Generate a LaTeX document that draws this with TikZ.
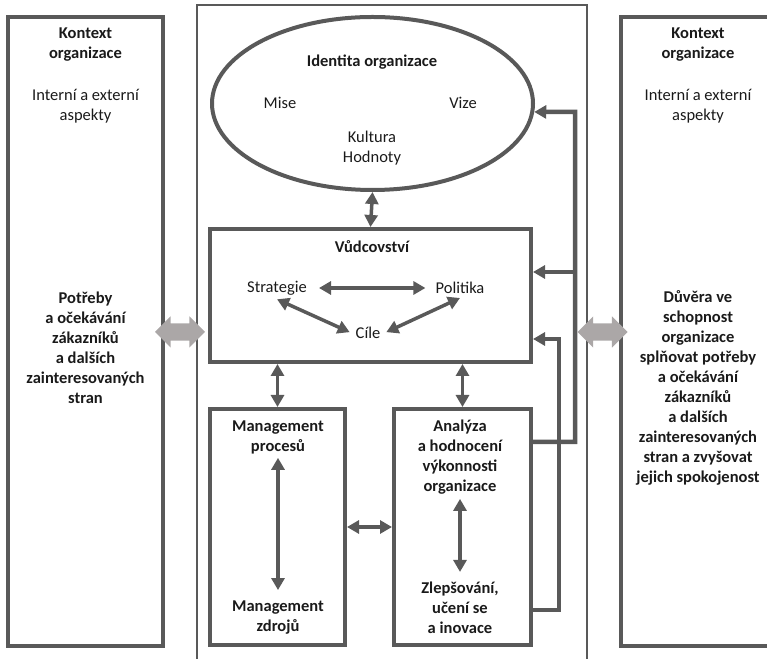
\documentclass[tikz,border=0pt]{standalone}
\usepackage{fontspec}
\setmainfont{Carlito}
\usetikzlibrary{arrows.meta,shapes.geometric,shapes.arrows}
\definecolor{linegray}{HTML}{595959}
\definecolor{arrowgray}{HTML}{ABA7A7}
\definecolor{textblack}{HTML}{1A1A1A}
\begin{document}
\begin{tikzpicture}[>={Triangle[length=12bp,width=13bp]},line join=miter,
    every node/.style={font=\fontsize{16.5bp}{20bp}\selectfont,text=textblack,align=center},
    box/.style={draw=linegray,line width=4bp,rectangle,inner sep=0pt},
    lbl/.style={inner sep=4bp},
    hd/.style={lbl,font=\fontsize{16.5bp}{20bp}\selectfont\bfseries},
    link/.style={draw=linegray,line width=3.5bp,<->},
    feed/.style={draw=linegray,line width=4.5bp},
    fat/.style={double arrow,fill=arrowgray,draw=none,inner xsep=0pt,inner ysep=8.5bp,
      minimum width=31bp,minimum height=50bp,double arrow head extend=7bp},
  ]
    \useasboundingbox (0,0) rectangle (767bp,659bp);
    %%
    \node (frame) at (392bp,324bp) [draw=linegray,line width=2bp,rectangle,minimum width=390bp,minimum height=660bp] {};
    \node (ctxL) at (85.5bp,327.5bp) [box,minimum width=155bp,minimum height=629bp] {};
    \node (ctxR) at (698.5bp,327.5bp) [box,minimum width=155bp,minimum height=629bp] {};
    \node (ctxLt) at (85.5bp,614bp) [hd] {Kontext\\organizace};
    \node (ctxLa) at (85.5bp,552.5bp) [lbl] {Interní a externí\\aspekty};
    \node (needs) at (85.5bp,311.5bp) [hd] {Potřeby\\a očekávání\\zákazníků\\a dalších\\zainteresovaných\\stran};
    \node (ctxRt) at (698bp,614bp) [hd] {Kontext\\organizace};
    \node (ctxRa) at (698bp,552.5bp) [lbl] {Interní a externí\\aspekty};
    \node (trust) at (698bp,271.5bp) [hd] {Důvěra ve\\schopnost\\organizace\\splňovat potřeby\\a očekávání\\zákazníků\\a dalších\\zainteresovaných\\stran a zvyšovat\\jejich spokojenost};
    %
    \node (ident) at (372.5bp,555.5bp) [ellipse,draw=linegray,line width=4bp,inner sep=0pt,minimum width=321bp,minimum height=173bp] {};
    \node (identT) at (372bp,597bp) [hd] {Identita organizace};
    \node (mise) at (280bp,556bp) [lbl] {Mise};
    \node (vize) at (463bp,556bp) [lbl] {Vize};
    \node (kult) at (372bp,511bp) [lbl] {Kultura\\Hodnoty};
    %
    \node (lead) at (370.5bp,363.5bp) [box,minimum width=321bp,minimum height=133bp] {};
    \node (leadT) at (372bp,412bp) [hd] {Vůdcovství};
    \node (strat) at (277bp,371bp) [lbl] {Strategie};
    \node (polit) at (460bp,371bp) [lbl] {Politika};
    \node (cile) at (368bp,326bp) [lbl] {Cíle};
    %
    \node (proc) at (277.5bp,132bp) [box,minimum width=135bp,minimum height=236bp] {};
    \node (anal) at (462.5bp,132bp) [box,minimum width=137bp,minimum height=236bp] {};
    \node (mproc) at (278bp,222bp) [hd] {Management\\procesů};
    \node (mzdr) at (278bp,41bp) [hd] {Management\\zdrojů};
    \node (analT) at (460bp,201.5bp) [hd] {Analýza\\a hodnocení\\výkonnosti\\organizace};
    \node (impr) at (460bp,51bp) [hd] {Zlepšování,\\učení se\\a inovace};
    %
    \node (exL) at (180bp,327bp) [fat] {};
    \node (exR) at (602.5bp,327bp) [fat] {};
    %
    \draw [link] (ident.south) -- (lead.north);
    \draw [link,shorten <=8bp,shorten >=6bp] (strat) -- (polit);
    \draw [link,shorten >=2bp] (strat.south) -- (cile.west);
    \draw [link,shorten >=2bp] (polit.south) -- (cile.east);
    \draw [link] (proc.north) -- (proc.north |- lead.south);
    \draw [link] (anal.north) -- (anal.north |- lead.south);
    \draw [link] (proc.east) -- (anal.west);
    \draw [link,shorten >=7bp] (mproc) -- (mzdr);
    \draw [link,shorten >=6bp] (analT) -- (impr);
    %
    \coordinate (fbA) at (575bp,547bp);
    \coordinate (fbB) at (575bp,217bp);
    \coordinate (fbC) at (575bp,387bp);
    \coordinate (fbD) at (559bp,320bp);
    \coordinate (fbE) at (559bp,49bp);
    \draw [feed,->] (anal.east |- fbB) -- (fbB) -- (fbA) -- (ident.-3);
    \draw [feed,->] (fbC) -- (fbC -| lead.east);
    \draw [feed,->] (anal.east |- fbE) -- (fbE) -- (fbD) -- (fbD -| lead.east);
    %
\end{tikzpicture}
\end{document}
